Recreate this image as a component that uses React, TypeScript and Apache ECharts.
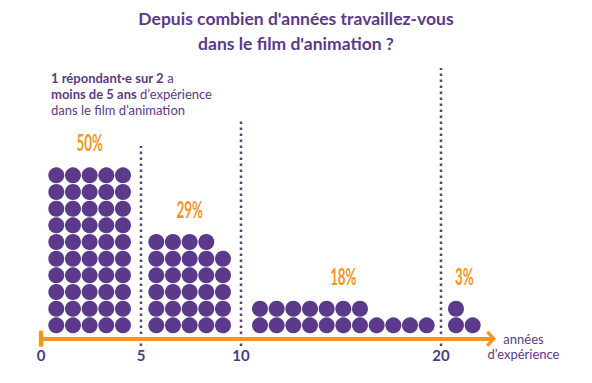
import React, { useEffect, useRef } from "react";
import * as echarts from "echarts";

// ---- data ----
const groupStarts = [0, 5, 10, 20]; // years of experience where each bracket starts
const percentages = [50, 29, 18, 3]; // share of respondents (one dot = 1%)
const groupColumns = [5, 5, 11, 2]; // dots per row in each bracket
const tickValues = [0, 5, 10, 20];
const dividerYears = [5, 10, 20];

const titleText = "Depuis combien d'années travaillez-vous\ndans le film d'animation ?";
const axisName = "\nannées\nd’expérience";

// ---- layout constants ----
const PURPLE = "#5b3a8c";
const ORANGE = "#f7941d";
const DOT_GRAY = "#5a4672";
const COL_STEP = 0.8333; // years between dot columns
const ROW_BASE = 0.8; // y of first dot row (row units)
const GROUP_PAD = [0.765, 0.765, 0.95, 0.75];
const DIVIDER_TOPS = [11.56, 13.12, 16.24];
const DIVIDER_BOTTOM = -0.44;

function buildDots() {
  const dots: number[][] = [];
  percentages.forEach((p, g) => {
    const cols = groupColumns[g];
    for (let k = 0; k < p; k++) {
      const c = k % cols;
      const r = Math.floor(k / cols);
      dots.push([groupStarts[g] + GROUP_PAD[g] + c * COL_STEP, ROW_BASE + r]);
    }
  });
  return dots;
}

function buildLabels() {
  return percentages.map((p, g) => {
    const cols = groupColumns[g];
    const rows = Math.ceil(p / cols);
    const usedCols = Math.min(cols, p);
    return [
      groupStarts[g] + GROUP_PAD[g] + ((usedCols - 1) / 2) * COL_STEP,
      ROW_BASE + rows - 1 + 2,
      p,
    ];
  });
}

export default function App() {
  const ref = useRef<HTMLDivElement>(null);
  useEffect(() => {
    if (!ref.current) return;
    const chart = echarts.init(ref.current, undefined, { renderer: "svg" });
    const chevron = "path://M8,0 L16,7.5 L14,10 L8,4.5 L2,10 L0,7.5 Z";
    const cap = "path://M0,0 L15,0 L15,4 L0,4 Z";
    const dividerSeries = dividerYears.map((x, i) => ({
      type: "line",
      silent: true,
      clip: false,
      symbol: "none",
      z: 1,
      lineStyle: { color: DOT_GRAY, width: 2.5, type: [2.5, 3.5] },
      data: [
        [x, DIVIDER_BOTTOM],
        [x, DIVIDER_TOPS[i]],
      ],
    }));
    chart.setOption({
      animation: false,
      title: {
        text: titleText,
        left: "center",
        top: 1,
        textStyle: {
          fontFamily: "Lato",
          fontWeight: "bold",
          fontSize: 17.5,
          lineHeight: 25,
          color: PURPLE,
        },
      },
      grid: { left: 41, top: 38.7, width: 450, height: 300, outerBoundsMode: "none" },
      xAxis: {
        type: "value",
        min: 0,
        max: 22.5,
        interval: 5,
        splitLine: { show: false },
        axisTick: { show: false },
        z: 5,
        axisLine: {
          onZero: false,
          lineStyle: { color: ORANGE, width: 4 },
          symbol: [cap, chevron],
          symbolSize: [16, 10],
        },
        axisLabel: {
          margin: 9,
          fontFamily: "Lato",
          fontWeight: "bold",
          fontSize: 15,
          color: "#4f3a8a",
          formatter: (v: number) => (tickValues.includes(v) ? String(v) : ""),
        },
        name: axisName,
        nameLocation: "end",
        nameGap: 32.5,
        nameTextStyle: {
          fontFamily: "Lato",
          fontSize: 13,
          lineHeight: 15,
          color: PURPLE,
          align: "center",
          verticalAlign: "middle",
        },
      },
      yAxis: { type: "value", min: 0, max: 18, show: false },
      graphic: [
        {
          type: "text",
          left: 51,
          top: 71.5,
          style: {
            text:
              "{b|1 répondant·e sur 2} {n|a}\n{b|moins de 5 ans} {n|d’expérience}\n{n|dans le film d’animation}",
            rich: {
              b: { fontFamily: "Lato", fontWeight: "bold", fontSize: 13, lineHeight: 16, fill: PURPLE },
              n: { fontFamily: "Lato", fontSize: 13, lineHeight: 16, fill: PURPLE },
            },
          },
        },
      ],
      series: [
        ...dividerSeries,
        {
          type: "scatter",
          clip: false,
          silent: true,
          symbol: "circle",
          symbolSize: 16,
          z: 3,
          itemStyle: { color: PURPLE, opacity: 1 },
          data: buildDots(),
        },
        {
          type: "custom",
          silent: true,
          clip: false,
          data: buildLabels(),
          renderItem: (_params: any, api: any) => {
            const pt = api.coord([api.value(0), api.value(1)]);
            return {
              type: "text",
              x: pt[0],
              y: pt[1],
              scaleX: 0.58,
              style: {
                text: api.value(2) + "%",
                x: 0,
                y: 0,
                align: "center",
                verticalAlign: "middle",
                fontFamily: "Lato",
                fontWeight: "bold",
                fontSize: 23,
                fill: ORANGE,
              },
            };
          },
        },
      ],
    });
    return () => chart.dispose();
  }, []);
  return (
    <div
      ref={ref}
      style={{ position: "fixed", left: 0, top: 0, width: 592, height: 383, background: "#fff" }}
    />
  );
}
